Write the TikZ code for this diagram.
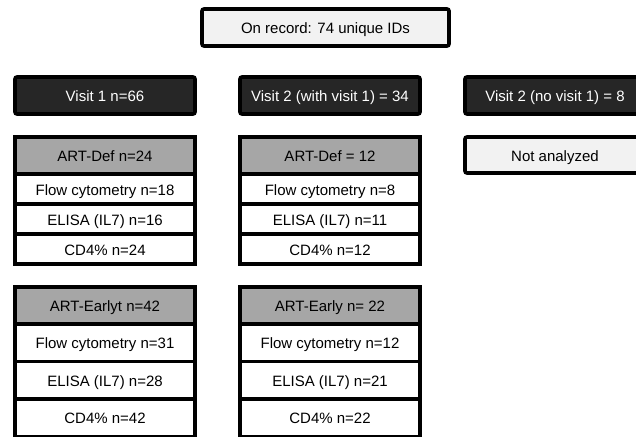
\documentclass[tikz,border=0pt]{standalone}
\usepackage{fontspec}
\setmainfont{Liberation Sans}
\definecolor{darkfill}{HTML}{262626}
\definecolor{lightfill}{HTML}{F2F2F2}
\definecolor{headfill}{HTML}{A6A6A6}
\begin{document}
\begin{tikzpicture}[x=1pt,y=-1pt,
  base/.style={draw=black, line width=3.6pt, rectangle, inner sep=0pt, text height=12.5pt, text depth=0.5pt, font=\fontsize{15}{18}\selectfont},
  topbox/.style={base, fill=lightfill, rounded corners=2pt, minimum width=247pt, minimum height=37pt},
  visitbox/.style={base, fill=darkfill, text=white, rounded corners=2pt, minimum width=180pt, minimum height=37pt},
  nabox/.style={base, fill=lightfill, rounded corners=2pt, minimum width=180pt, minimum height=36pt},
  headbox/.style={base, fill=headfill, minimum width=180pt, minimum height=37pt},
  rowA/.style={base, fill=white, minimum width=180pt, minimum height=30pt},
  rowB/.style={base, fill=white, minimum width=180pt, minimum height=37.5pt}
]
\useasboundingbox (0,0) rectangle (636,436);
\clip (0,0) rectangle (636,436);
\fill[white] (0,0) rectangle (636,436);

\node[topbox] (top) at (325.5,27.5) {On record: 74 unique IDs};

\node[visitbox] (v1) at (105,95.5) {Visit 1 n=66};
\node[visitbox] (v2) at (330,95.5) {Visit 2 (with visit 1) = 34};
\node[visitbox] (v3) at (555,95.5) {Visit 2 (no visit 1) = 8};

\node[nabox] (na) at (555,155) {Not analyzed};

% group 1, column 1
\node[headbox] (d1h) at (105,155.5) {ART-Def n=24};
\node[rowA] (d1a) at (105,189) {Flow cytometry n=18};
\node[rowA] (d1b) at (105,219) {ELISA (IL7) n=16};
\node[rowA] (d1c) at (105,249) {CD4\% n=24};

% group 1, column 2
\node[headbox] (d2h) at (330,155.5) {ART-Def = 12};
\node[rowA] (d2a) at (330,189) {Flow cytometry n=8};
\node[rowA] (d2b) at (330,219) {ELISA (IL7) n=11};
\node[rowA] (d2c) at (330,249) {CD4\% n=12};

% group 2, column 1
\node[headbox] (e1h) at (105,305.5) {ART-Earlyt n=42};
\node[rowB] (e1a) at (105,342.75) {Flow cytometry n=31};
\node[rowB] (e1b) at (105,380.25) {ELISA (IL7) n=28};
\node[rowB] (e1c) at (105,417.75) {CD4\% n=42};

% group 2, column 2
\node[headbox] (e2h) at (330,305.5) {ART-Early n= 22};
\node[rowB] (e2a) at (330,342.75) {Flow cytometry n=12};
\node[rowB] (e2b) at (330,380.25) {ELISA (IL7) n=21};
\node[rowB] (e2c) at (330,417.75) {CD4\% n=22};
\end{tikzpicture}
\end{document}
